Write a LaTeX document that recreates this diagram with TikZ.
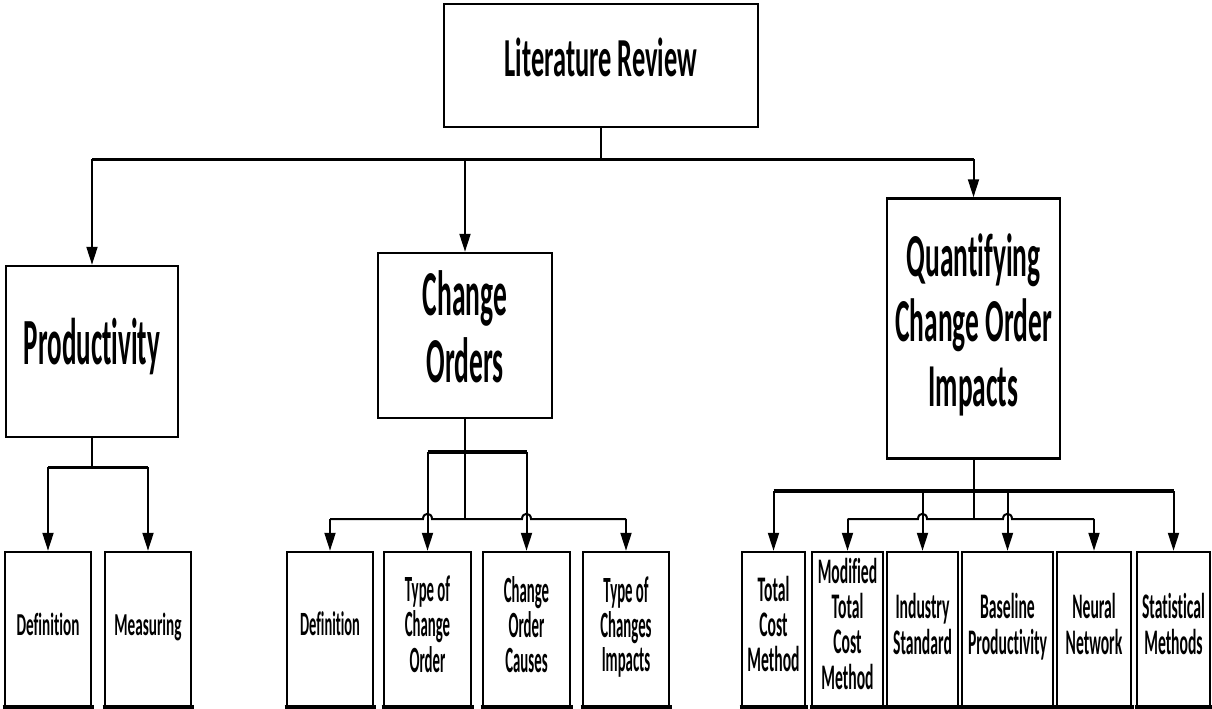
\documentclass[tikz,border=0pt]{standalone}
\usepackage{fontspec}
\setmainfont{Carlito}[Ligatures=NoCommon]
\usepackage{graphicx}
\usetikzlibrary{arrows.meta}
\newcommand{\bt}[4]{\scalebox{#1}[1]{\fontsize{#2}{#3}\selectfont\bfseries\begin{tabular}{@{}c@{}}#4\end{tabular}}}
\begin{document}
\begin{tikzpicture}[x=1pt,y=-1pt,
  box/.style={draw, line width=2.5pt, rectangle, inner sep=0pt},
  leaf/.style={box, minimum height=154pt},
  conn/.style={line width=2pt},
  bus/.style={line width=3pt},
  base/.style={line width=4.5pt},
  arr/.style={line width=2pt, -{Triangle[length=18pt,width=11pt]}}]
\useasboundingbox (0,0) rectangle (1212,709);
% main boxes
\node[box, minimum width=314pt, minimum height=123pt] (LR) at (601,65.5) {\raisebox{-4pt}{\bt{0.48}{55}{55}{Literature Review}}};
\node[box, minimum width=172pt, minimum height=171pt] (P) at (92,351.5) {\raisebox{-4pt}{\bt{0.41}{66}{66}{Productivity}}};
\node[box, minimum width=174pt, minimum height=165pt] (CO) at (465,335.5) {\raisebox{-3pt}{\bt{0.43}{64}{67}{Change\\Orders}}};
\node[box, minimum width=173pt, minimum height=260pt] (Q) at (973.5,328.5) {\raisebox{-2pt}{\bt{0.45}{61}{65}{Quantifying\\Change Order\\Impacts}}};
% productivity leaves
\node[leaf, minimum width=86pt] (P1) at (48,629) {\bt{0.475}{32}{33}{Definition}};
\node[leaf, minimum width=86pt] (P2) at (148,629) {\bt{0.475}{32}{33}{Measuring}};
% change order leaves
\node[leaf, minimum width=86pt] (C1) at (330,629) {\bt{0.425}{34}{33}{Definition}};
\node[leaf, minimum width=87pt] (C2) at (427.5,629) {\bt{0.40}{37}{33}{Type of\\Change\\Order}};
\node[leaf, minimum width=87pt] (C3) at (526.5,629) {\bt{0.40}{37}{33}{Change\\Order\\Causes}};
\node[leaf, minimum width=86pt] (C4) at (626,629) {\bt{0.40}{37}{33}{Type of\\Changes\\Impacts}};
% quantifying leaves
\node[leaf, minimum width=63pt] (Q1) at (773.5,629) {\bt{0.435}{36}{35}{Total\\Cost\\Method}};
\node[leaf, minimum width=71pt] (Q2) at (847.5,629) {\bt{0.435}{36}{35}{Modified\\Total\\Cost\\Method}};
\node[leaf, minimum width=71pt] (Q3) at (922.5,629) {\bt{0.435}{36}{35}{Industry\\Standard}};
\node[leaf, minimum width=91pt] (Q4) at (1007.5,629) {\bt{0.435}{36}{35}{Baseline\\Productivity}};
\node[leaf, minimum width=74pt] (Q5) at (1094,629) {\bt{0.435}{36}{35}{Neural\\Network}};
\node[leaf, minimum width=73pt] (Q6) at (1173.5,629) {\bt{0.435}{36}{35}{Statistical\\Methods}};
% heavier bottom edges
\foreach \n in {P1,P2,C1,C2,C3,C4,Q1,Q2,Q3,Q4,Q5,Q6}
  \draw[base] ([xshift=-1.25pt]\n.south west) -- ([xshift=1.25pt]\n.south east);
% top level connectors
\coordinate (b0) at (601,159);
\draw[conn] (LR.south) -- (b0);
\draw[bus] (P.north |- b0) -- (Q.north |- b0);
\draw[arr] (P.north |- b0) -- (P.north);
\draw[arr] (CO.north |- b0) -- (CO.north);
\draw[arr] (Q.north |- b0) -- (Q.north);
% productivity
\coordinate (pb) at (92,467);
\draw[conn] (P.south) -- (pb);
\draw[bus] (P1.north |- pb) -- (P2.north |- pb);
\draw[arr] (P1.north |- pb) -- (P1.north);
\draw[arr] (P2.north |- pb) -- (P2.north);
% change orders
\coordinate (cu) at (465,452);
\coordinate (cl) at (465,519);
\draw[conn] (CO.south) -- (cl);
\draw[line width=3.5pt] (C2.north |- cu) -- (C3.north |- cu);
\draw[arr] (C2.north |- cu) -- (C2.north);
\draw[arr] (C3.north |- cu) -- (C3.north);
\draw[conn] (C1.north |- cl) -- ([xshift=-4.5pt]C2.north |- cl)
  .. controls +(0,-7) and +(0,-7) .. ([xshift=4.5pt]C2.north |- cl)
  -- ([xshift=-4.5pt]C3.north |- cl)
  .. controls +(0,-7) and +(0,-7) .. ([xshift=4.5pt]C3.north |- cl)
  -- (C4.north |- cl);
\draw[arr] (C1.north |- cl) -- (C1.north);
\draw[arr] (C4.north |- cl) -- (C4.north);
% quantifying
\coordinate (qu) at (973.5,491);
\coordinate (ql) at (973.5,519);
\draw[conn] (Q.south) -- (ql);
\draw[line width=4pt] (Q1.north |- qu) -- (Q6.north |- qu);
\draw[arr] (Q1.north |- qu) -- (Q1.north);
\draw[arr] (Q3.north |- qu) -- (Q3.north);
\draw[arr] (Q4.north |- qu) -- (Q4.north);
\draw[arr] (Q6.north |- qu) -- (Q6.north);
\draw[conn] (Q2.north |- ql) -- ([xshift=-4.5pt]Q3.north |- ql)
  .. controls +(0,-7) and +(0,-7) .. ([xshift=4.5pt]Q3.north |- ql)
  -- ([xshift=-4.5pt]Q4.north |- ql)
  .. controls +(0,-7) and +(0,-7) .. ([xshift=4.5pt]Q4.north |- ql)
  -- (Q5.north |- ql);
\draw[arr] (Q2.north |- ql) -- (Q2.north);
\draw[arr] (Q5.north |- ql) -- (Q5.north);
\end{tikzpicture}
\end{document}
